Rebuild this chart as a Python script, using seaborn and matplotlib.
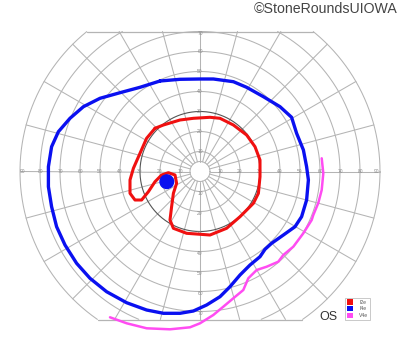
import numpy as np
import pandas as pd
import matplotlib
matplotlib.use("Agg")
import matplotlib.pyplot as plt
import seaborn as sns
from matplotlib.patches import Patch, Circle

# ---- data (visual-field coordinates in degrees: x = horizontal, y = vertical) ----
i2e_x = [-22.5, -18.3, -10.0, -3.3, 5.0, 10.0, 16.7, 23.3, 27.5, 30.0, 30.0, 29.2, 26.7, 20.0,
         13.3, 5.0, -6.7, -13.3, -15.0, -14.2, -13.3, -11.7, -12.5, -15.8, -19.2, -22.5, -25.8,
         -29.2, -32.5, -35.0, -35.0, -33.3, -30.0, -26.7, -22.5]
i2e_y = [21.6, 23.25, 25.75, 26.6, 27.1, 26.6, 23.25, 18.25, 12.4, 5.75, -2.6, -10.9, -15.9, -22.6,
         -28.4, -31.75, -30.9, -28.4, -24.25, -17.6, -10.9, -5.9, -1.75, -0.6, -1.75, -5.1, -10.1,
         -14.25, -14.25, -10.9, -4.25, 1.6, 9.1, 16.6, 21.6]

i4e_x = [-20.0, -10.0, 0.0, 6.7, 16.7, 23.3, 31.7, 40.0, 45.8, 48.3, 51.7, 53.3, 54.2, 53.3, 50.8,
         47.5, 41.7, 35.8, 32.5, 30.0, 25.0, 20.0, 15.0, 10.0, 3.3, -3.3, -10.0, -18.3, -26.7,
         -36.7, -46.7, -55.0, -61.7, -67.5, -71.7, -74.2, -75.8, -75.8, -74.2, -70.8, -65.0,
         -58.3, -50.0, -40.0, -30.0, -20.0]
i4e_y = [45.25, 46.1, 46.25, 46.25, 44.9, 42.1, 37.4, 32.4, 27.1, 19.1, 10.75, 2.4, -4.25, -14.25,
         -22.6, -27.6, -31.75, -35.9, -38.9, -42.6, -46.75, -51.75, -57.6, -62.6, -66.75, -69.75,
         -70.9, -70.9, -69.25, -65.6, -60.1, -53.4, -45.9, -36.75, -27.6, -17.6, -7.6, 2.4, 12.4,
         19.9, 26.6, 32.4, 36.6, 39.4, 42.1, 45.25]

v4e_x = [60.85, 61.65, 60.85, 59.15, 56.65, 55.85, 51.65, 46.65, 41.65, 39.15, 33.35, 28.35, 24.15,
         21.65, 16.65, 11.65, 6.65, 0.0, -5.0, -15.0, -26.65, -36.65, -45.0]
v4e_y = [6.6, -0.9, -9.25, -15.75, -21.75, -24.25, -30.9, -37.6, -41.75, -45.1, -47.6, -49.25, -53.4,
         -59.25, -63.4, -67.6, -71.75, -75.9, -77.9, -78.9, -78.4, -75.9, -72.9]

blind_spot_center = (-16.6, -5.1)
blind_spot_radius = 3.4

ring_labels = [10, 20, 30, 40, 50, 60, 70, 80, 90]
legend_labels = ["I2e", "I4e", "V4e"]
colors = ["#f01010", "#0a10f0", "#ff4cf2"]

# ---- figure ----
sns.set_style("white")
plt.rcParams["font.family"] = ["Liberation Sans", "DejaVu Sans"]

fig = plt.figure(figsize=(4.0, 3.52), dpi=100)
ax = fig.add_axes([0, 0, 1, 1])
ax.set_xlim(-100, 100)
ax.set_ylim(-90.25, 85.75)
ax.axis("off")

TOP, BOT, RMAX = 70.0, -74.0, 90.0
grid_c = "#b4b4b4"

# circles
th = np.linspace(0, 2 * np.pi, 1441)
for r in [5] + ring_labels:
    cx, cy = r * np.cos(th), r * np.sin(th)
    m = (cy > TOP) | (cy < BOT)
    cx = np.where(m, np.nan, cx)
    cy = np.where(m, np.nan, cy)
    if r == 30:
        ax.plot(cx, cy, color="#555555", lw=0.8, zorder=2)
    else:
        ax.plot(cx, cy, color=grid_c, lw=0.75, zorder=1)

# radial lines every 15 degrees
for a in range(0, 360, 15):
    rad = np.deg2rad(a)
    s = np.sin(rad)
    rend = RMAX
    if s > 1e-9:
        rend = min(rend, TOP / s)
    elif s < -1e-9:
        rend = min(rend, BOT / s)
    ax.plot([5 * np.cos(rad), rend * np.cos(rad)], [5 * np.sin(rad), rend * np.sin(rad)],
            color=grid_c, lw=0.75, zorder=1)

# top / bottom clip lines
wt = np.sqrt(RMAX ** 2 - TOP ** 2)
wb = np.sqrt(RMAX ** 2 - BOT ** 2)
ax.plot([-wt, wt], [TOP, TOP], color=grid_c, lw=0.9, zorder=1)
ax.plot([-wb, wb], [BOT, BOT], color=grid_c, lw=0.9, zorder=1)

# axis labels
lab_kw = dict(fontsize=3.5, color="#8c8c8c", ha="center", va="center", zorder=3)
for r in ring_labels:
    rr = 88.5 if r == 90 else r
    ax.text(-rr, 0, str(r), **lab_kw)
    ax.text(rr, 0, str(r), **lab_kw)
    if r <= 70:
        ax.text(0, min(r, 68.8), str(r), **lab_kw)
        ax.text(0, -r - 0.8, str(r), **lab_kw)

# isopters via seaborn
df_i4e = pd.DataFrame({"x": i4e_x, "y": i4e_y})
df_i2e = pd.DataFrame({"x": i2e_x, "y": i2e_y})
df_v4e = pd.DataFrame({"x": v4e_x, "y": v4e_y})
sns.lineplot(data=df_v4e, x="x", y="y", sort=False, estimator=None, color=colors[2], lw=1.8, ax=ax,
             zorder=4, solid_joinstyle="round", solid_capstyle="round")
sns.lineplot(data=df_i4e, x="x", y="y", sort=False, estimator=None, color=colors[1], lw=2.4, ax=ax,
             zorder=5, solid_joinstyle="round", solid_capstyle="round")
sns.lineplot(data=df_i2e, x="x", y="y", sort=False, estimator=None, color=colors[0], lw=2.2, ax=ax,
             zorder=6, solid_joinstyle="round", solid_capstyle="round")
ax.add_patch(Circle(blind_spot_center, blind_spot_radius, color=colors[1], zorder=7))
ax.set_xlabel("")
ax.set_ylabel("")

# legend
handles = [Patch(facecolor=c, edgecolor="none", label=l) for c, l in zip(colors, legend_labels)]
leg = ax.legend(handles=handles, loc="upper left", bbox_to_anchor=(345 / 400, 1 - 297.5 / 352),
                bbox_transform=fig.transFigure, fontsize=3.6, frameon=True, fancybox=False,
                edgecolor="#b0b0b0", borderpad=0.35, handlelength=1.3, handleheight=1.3,
                labelspacing=0.25, handletextpad=1.2, borderaxespad=0)
leg.get_frame().set_linewidth(0.6)
for t in leg.get_texts():
    t.set_color("#555555")

fig.text(328 / 400, 1 - 316.5 / 352, "OS", fontsize=9, color="#333333", ha="center", va="center")
fig.text(398 / 400, 1 - 9 / 352, "©StoneRoundsUIOWA", fontsize=10.2, color="#444444",
         ha="right", va="center")

fig.savefig("out.png", dpi=100)
